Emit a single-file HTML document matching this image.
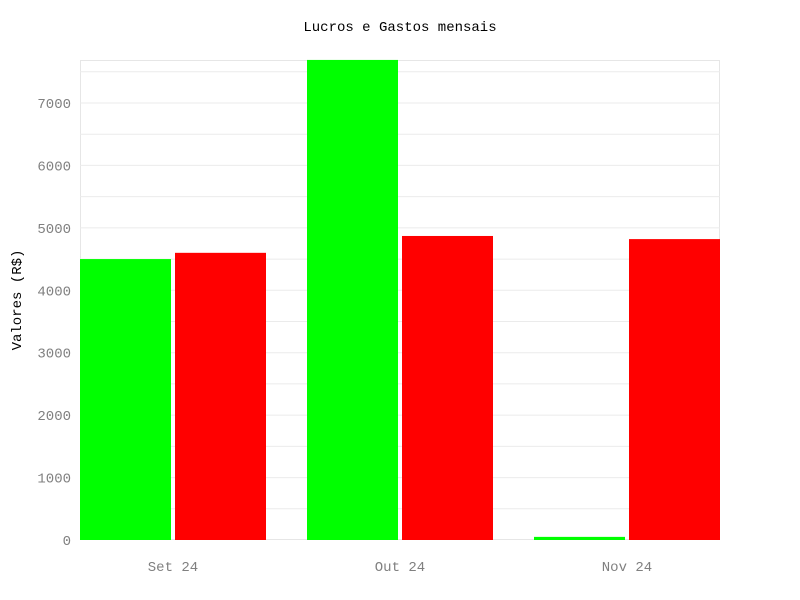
<!DOCTYPE html>
<html><head><meta charset="utf-8"><style>
html,body{margin:0;padding:0;background:#fff;}
svg{display:block;font-family:"Liberation Mono","DejaVu Sans Mono",monospace;}
</style></head><body>
<svg id="chart" width="800" height="600"></svg>
<script>
const categories = ["Set 24", "Out 24", "Nov 24"];
const lucros = [4500, 7690, 50];
const gastos = [4600, 4870, 4820];
const yTicks = [0, 1000, 2000, 3000, 4000, 5000, 6000, 7000];
const gridVals = [500, 1000, 1500, 2000, 2500, 3000, 3500, 4000, 4500, 5000, 5500, 6000, 6500, 7000, 7500];

const NS = "http://www.w3.org/2000/svg";
const svg = document.getElementById("chart");
const L = 80, R = 720, T = 60, B = 540;
const yMax = (B - T) / (437 / 7000);
function y(v) { return B - v / yMax * (B - T); }
const barW = 91, gap = 4, groupGap = 41;
function xBar(i, s) { return L + i * (2 * barW + gap + groupGap) + s * (barW + gap); }
function el(tag, attrs, parent) {
  const e = document.createElementNS(NS, tag);
  for (const k in attrs) e.setAttribute(k, attrs[k]);
  (parent || svg).appendChild(e);
  return e;
}
let t = el("text", {x: 400, y: 31, "text-anchor": "middle", "font-size": 14, fill: "#000"});


t.textContent = "Lucros e Gastos mensais";

let frame = el("rect", {x: L + 0.5, y: T + 0.5, width: R - L - 1, height: B - T - 1, fill: "none", stroke: "#e6e6e6"});



gridVals.forEach(v => {
  const g = el("line", {x1: L, x2: R, y1: y(v), y2: y(v), stroke: "#ebebeb", "stroke-width": 1});
  
  
});
yTicks.forEach(v => {
  const tl = el("text", {x: 71, y: y(v) + 5, "text-anchor": "end", "font-size": 14, fill: "#808080"});
  
  
  tl.textContent = v;
});
categories.forEach((c, i) => {
  const g = el("rect", {x: xBar(i, 0), y: y(lucros[i]), width: barW, height: B - y(lucros[i]), fill: "#00ff00"});
  
  
  const r = el("rect", {x: xBar(i, 1), y: y(gastos[i]), width: barW, height: B - y(gastos[i]), fill: "#ff0000"});
  
  
  const cl = el("text", {x: xBar(i, 0) + barW + gap / 2, y: 571, "text-anchor": "middle", "font-size": 14, fill: "#808080"});
  
  
  cl.textContent = c;
});
let yt = el("text", {x: 0, y: 0, transform: "translate(21,300) rotate(-90)", "text-anchor": "middle", "font-size": 14, fill: "#000"});


yt.textContent = "Valores (R$)";
</script>
</body></html>
